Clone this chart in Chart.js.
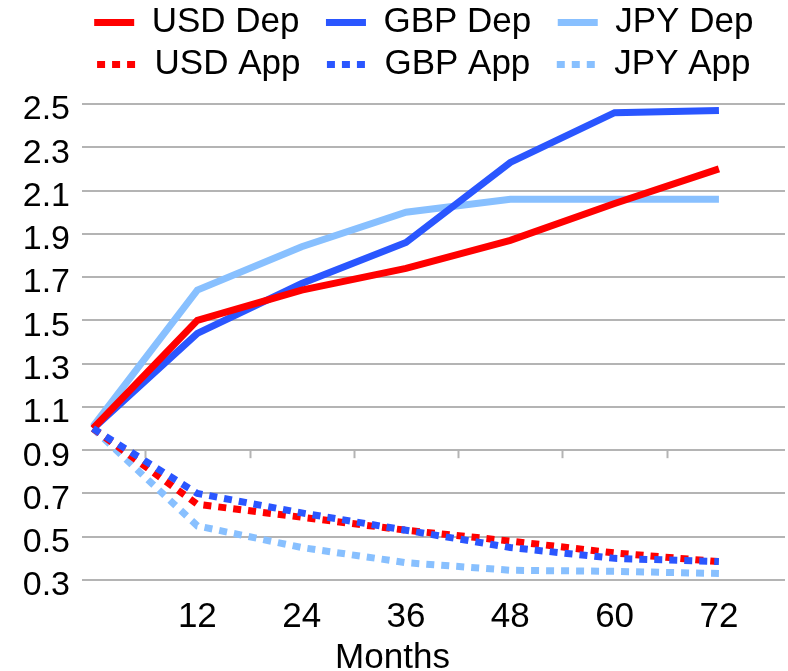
<!DOCTYPE html>
<html>
<head>
<meta charset="utf-8">
<script src="https://cdn.jsdelivr.net/npm/chart.js@4.4.1/dist/chart.umd.min.js"></script>
<style>
  html, body { margin: 0; padding: 0; background: #fff; }
  #wrap { width: 788px; height: 671px; }
</style>
</head>
<body>
<div id="wrap"><canvas id="fxChart" width="788" height="671"></canvas></div>
<script>
// months on the x axis
const months = [0, 12, 24, 36, 48, 60, 72];
const monthTicks = [12, 24, 36, 48, 60, 72];

// series
const usdDep = [1.00, 1.50, 1.64, 1.74, 1.87, 2.04, 2.20];
const gbpDep = [1.00, 1.44, 1.67, 1.86, 2.23, 2.46, 2.47];
const jpyDep = [1.01, 1.64, 1.84, 2.00, 2.06, 2.06, 2.06];
const usdApp = [1.00, 0.65, 0.59, 0.53, 0.48, 0.425, 0.385];
const gbpApp = [1.00, 0.70, 0.61, 0.53, 0.45, 0.40, 0.385];
const jpyApp = [1.00, 0.55, 0.45, 0.38, 0.345, 0.34, 0.33];

const seriesLabels = ['USD Dep', 'GBP Dep', 'JPY Dep', 'USD App', 'GBP App', 'JPY App'];

const RED = '#ff0000';
const BLUE = '#2a56ff';
const LIGHT = '#88c0ff';
const FONT = "'Liberation Sans', Arial, sans-serif";

function toPoints(values) {
    return values.map((v, i) => ({ x: months[i], y: v }));
}

function makeSet(label, values, color, dashed, order) {
    return {
        label: label,
        data: toPoints(values),
        borderColor: color,
        backgroundColor: color,
        borderWidth: 7,
        borderDash: dashed ? [8, 7] : [],
        pointRadius: 0,
        tension: 0,
        order: order
    };
}

// little tick marks that hang under the 0.9 gridline, between the month labels
const midTicks = {
    id: 'midTicks',
    afterDraw(chart) {
        const ctx = chart.ctx;
        const xs = chart.scales.x;
        const ys = chart.scales.y;
        const y0 = ys.getPixelForValue(0.9);
        ctx.save();
        ctx.strokeStyle = '#b4b4b4';
        ctx.lineWidth = 2;
        monthTicks.forEach(m => {
            const px = Math.round(xs.getPixelForValue(m - 6)) + 0.5;
            ctx.beginPath();
            ctx.moveTo(px, y0);
            ctx.lineTo(px, y0 + 8);
            ctx.stroke();
        });
        ctx.restore();
    }
};

const ctx = document.getElementById('fxChart').getContext('2d');
const fxChart = new Chart(ctx, {
    type: 'line',
    data: {
        datasets: [
            makeSet(seriesLabels[0], usdDep, RED, false, 0),
            makeSet(seriesLabels[1], gbpDep, BLUE, false, 1),
            makeSet(seriesLabels[2], jpyDep, LIGHT, false, 2),
            makeSet(seriesLabels[3], usdApp, RED, true, 3),
            makeSet(seriesLabels[4], gbpApp, BLUE, true, -1),
            makeSet(seriesLabels[5], jpyApp, LIGHT, true, 5)
        ]
    },
    plugins: [midTicks],
    options: {
        responsive: false,
        animation: false,
        layout: { padding: { top: -2, right: 3, bottom: 0, left: 0 } },
        plugins: {
            tooltip: { enabled: false },
            // empty spacer between the legend and the plot
            subtitle: {
                display: true,
                text: '',
                position: 'top',
                weight: 500,
                font: { size: 1, lineHeight: 1 },
                padding: { top: 0, bottom: 11 }
            },
            // "Months" sits centred on the whole picture, under the ticks
            title: {
                display: true,
                text: 'Months',
                position: 'bottom',
                color: '#000',
                font: { family: FONT, size: 35, weight: 'normal', lineHeight: '2px' },
                padding: { top: 3, bottom: 12 }
            },
            legend: {
                position: 'top',
                fullSize: false,
                labels: {
                    usePointStyle: true,
                    pointStyle: 'line',
                    pointStyleWidth: 40,
                    padding: 7,
                    color: '#000',
                    font: { family: FONT, size: 35 },
                    sort: (a, b) => a.datasetIndex - b.datasetIndex,
                    generateLabels(chart) {
                        const items = Chart.defaults.plugins.legend.labels.generateLabels(chart);
                        items.forEach(it => {
                            const ds = chart.data.datasets[it.datasetIndex];
                            it.text = it.text + '  ';
                            it.lineDash = ds.borderDash;
                            it.lineWidth = 7;
                            it.strokeStyle = ds.borderColor;
                        });
                        return items;
                    }
                }
            }
        },
        scales: {
            x: {
                type: 'linear',
                min: -1.27,
                max: 79.6,
                afterBuildTicks(scale) {
                    scale.ticks = monthTicks.map(v => ({ value: v }));
                },
                grid: { display: false, drawTicks: false },
                border: { display: false },
                ticks: {
                    color: '#000',
                    padding: 32,
                    maxRotation: 0,
                    autoSkip: false,
                    font: { family: FONT, size: 35, lineHeight: '10px' }
                }
            },
            y: {
                min: 0.3,
                max: 2.5,
                afterFit(scale) { scale.width = 82; },
                grid: { color: '#b4b4b4', lineWidth: 2, drawTicks: false },
                border: { display: false },
                ticks: {
                    stepSize: 0.2,
                    autoSkip: false,
                    color: '#000',
                    padding: 12,
                    labelOffset: 6,
                    font: { family: FONT, size: 34 },
                    callback: v => v.toFixed(1)
                }
            }
        }
    }
});
</script>
</body>
</html>
